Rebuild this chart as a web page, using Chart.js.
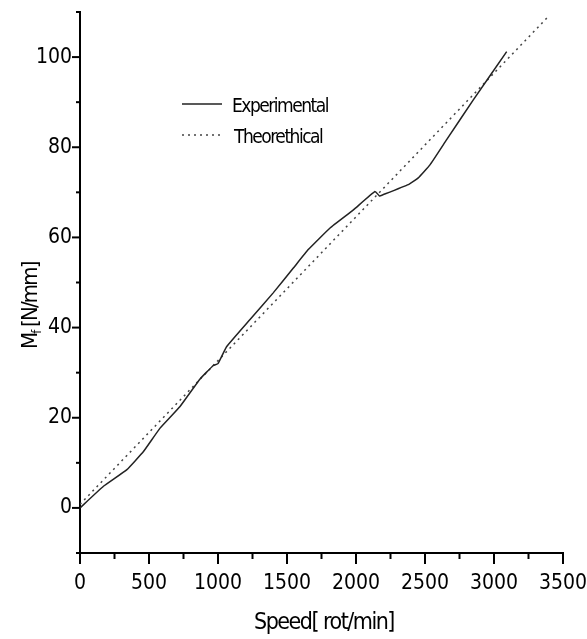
<!DOCTYPE html>
<html>
<head>
<meta charset="utf-8">
<script src="https://cdn.jsdelivr.net/npm/chart.js@4/dist/chart.umd.min.js"></script>
<style>
  html, body { margin: 0; padding: 0; background: #fff; }
  #wrap { width: 587px; height: 639px; }
</style>
</head>
<body>
<div id="wrap"><canvas id="myChart"></canvas></div>
<script>
// experimental curve
const expSpeed = [0, 170, 340, 460, 580, 725, 870, 966, 1000, 1063, 1232, 1400, 1546, 1654, 1812, 1981, 2138, 2170, 2198, 2379, 2451, 2536, 2657, 2850, 3092];
const expMf    = [0, 4.8, 8.5, 12.5, 17.7, 22.5, 28.6, 31.6, 32.0, 35.8, 41.8, 47.7, 53.2, 57.3, 62.1, 66.1, 70.2, 69.2, 69.5, 71.7, 73.2, 76.1, 81.7, 90.5, 101.2];

// theoretical straight line (two end points)
const theoSpeed = [0, 3400];
const theoMf    = [0.8, 109.2];

const xTicks = [0, 500, 1000, 1500, 2000, 2500, 3000, 3500];
const yTicks = [0, 20, 40, 60, 80, 100];

const FONT = "'Liberation Sans Narrow', 'DejaVu Sans Condensed', 'Liberation Sans', Arial, sans-serif";

function pts(xs, ys) {
  return xs.map((x, i) => ({ x: x, y: ys[i] }));
}

// tick marks (long for labelled, short for the others), legend and axis titles
const decor = {
  id: 'decor',
  afterDraw(chart) {
    const ctx = chart.ctx;
    const xs = chart.scales.x, ys = chart.scales.y;
    const area = chart.chartArea;
    ctx.save();
    ctx.strokeStyle = '#000';
    ctx.lineWidth = 2;
    xs.ticks.forEach(t => {
      const px = xs.getPixelForValue(t.value);
      const len = xTicks.includes(t.value) ? 11 : 6;
      ctx.beginPath();
      ctx.moveTo(px, area.bottom);
      ctx.lineTo(px, area.bottom + len);
      ctx.stroke();
    });
    ys.ticks.forEach(t => {
      const py = ys.getPixelForValue(t.value);
      const len = yTicks.includes(t.value) ? 8 : 4;
      ctx.beginPath();
      ctx.moveTo(area.left, py);
      ctx.lineTo(area.left - len, py);
      ctx.stroke();
    });

    // legend
    ctx.lineWidth = 1.5;
    ctx.strokeStyle = '#222';
    ctx.beginPath();
    ctx.moveTo(182, 104);
    ctx.lineTo(222, 104);
    ctx.stroke();
    ctx.strokeStyle = '#444';
    ctx.setLineDash([2, 4]);
    ctx.beginPath();
    ctx.moveTo(182, 135);
    ctx.lineTo(222, 135);
    ctx.stroke();
    ctx.setLineDash([]);
    ctx.fillStyle = '#000';
    ctx.textBaseline = 'alphabetic';
    ctx.textAlign = 'left';
    ctx.letterSpacing = '-1.5px';
    ctx.font = '19px ' + FONT;
    ctx.fillText('Experimental', 232, 112);
    ctx.fillText('Theorethical', 234, 143);

    // x title
    ctx.letterSpacing = '-1.5px';
    ctx.font = '23px ' + FONT;
    ctx.textAlign = 'center';
    ctx.fillText('Speed[ rot/min]', 324, 629);

    // y title, rotated, with subscript
    ctx.translate(37, 349);
    ctx.rotate(-Math.PI / 2);
    ctx.textAlign = 'left';
    ctx.letterSpacing = '-1.8px';
    ctx.font = '22px ' + FONT;
    ctx.fillText('M', 0, 0);
    let w = ctx.measureText('M').width;
    ctx.font = '13px ' + FONT;
    ctx.fillText('f', w, 4);
    w += ctx.measureText('f').width;
    ctx.font = '22px ' + FONT;
    ctx.fillText(' [N/mm]', w, 0);
    ctx.restore();
  }
};

const ctx = document.getElementById('myChart').getContext('2d');
const myChart = new Chart(ctx, {
  type: 'scatter',
  data: {
    datasets: [
      {
        label: 'Experimental',
        data: pts(expSpeed, expMf),
        showLine: true,
        borderColor: '#222',
        borderWidth: 1.5,
        pointRadius: 0,
        tension: 0.1,
      },
      {
        label: 'Theorethical',
        data: pts(theoSpeed, theoMf),
        showLine: true,
        borderColor: '#444',
        borderWidth: 1.5,
        borderDash: [2, 4],
        pointRadius: 0,
      },
    ],
  },
  options: {
    responsive: true,
    maintainAspectRatio: false,
    animation: false,
    layout: { padding: { top: 12, right: 24, left: 0, bottom: 0 } },
    plugins: {
      legend: { display: false },
      tooltip: { enabled: false },
    },
    scales: {
      x: {
        type: 'linear',
        min: 0,
        max: 3500,
        afterFit: s => { s.height = 86; s.paddingLeft = 0; s.paddingRight = 0; },
        border: { display: true, color: '#000', width: 2 },
        grid: { drawOnChartArea: false, drawTicks: false },
        ticks: {
          stepSize: 250,
          autoSkip: false,
          maxRotation: 0,
          padding: 18,
          color: '#000',
          font: { family: FONT, size: 21 },
          callback: v => xTicks.includes(v) ? String(v) : '',
        },
      },
      y: {
        type: 'linear',
        min: -10,
        max: 110,
        afterFit: s => { s.width = 80; s.paddingTop = 0; s.paddingBottom = 0; },
        border: { display: true, color: '#000', width: 2 },
        grid: { drawOnChartArea: false, drawTicks: false },
        ticks: {
          stepSize: 10,
          autoSkip: false,
          padding: 8,
          color: '#000',
          font: { family: FONT, size: 21 },
          callback: v => yTicks.includes(v) ? String(v) : '',
        },
      },
    },
  },
  plugins: [decor],
});
</script>
</body>
</html>
